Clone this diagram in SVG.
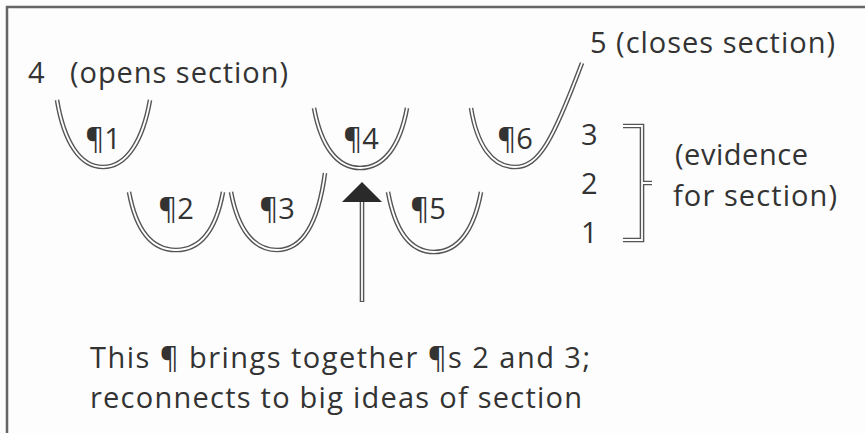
<svg xmlns="http://www.w3.org/2000/svg" width="865" height="433" viewBox="0 0 865 433">
<style>
  text { font-family: "Open Sans", "Noto Sans", sans-serif; fill: #333; font-size: 29px; }
  .o { fill: none; stroke: #555; stroke-width: 4.6; }
  .i { fill: none; stroke: #fff; stroke-width: 1.8; }
</style>
<rect x="0" y="0" width="865" height="433" fill="#fdfdfd"/>
<path d="M7,433 V7 H865" fill="none" stroke="#666" stroke-width="2.5"/>

<g id="label-opens">
  <text x="28" y="83">4</text>
  <text x="70" y="83" textLength="218" lengthAdjust="spacing">(opens section)</text>
</g>
<g id="label-closes"><text x="590" y="53" textLength="245" lengthAdjust="spacing">5 (closes section)</text></g>

<g id="p1">
  <path class="o" d="M57,100 C64,142 80,167 103,167 C127,167 143,140 150,100"/>
  <path class="i" d="M57,100 C64,142 80,167 103,167 C127,167 143,140 150,100"/>
  <text x="103" y="149" text-anchor="middle">¶1</text>
</g>
<g id="p4">
  <path class="o" d="M314,108 C321,146 337,168 360,168 C384,168 400,146 407,108"/>
  <path class="i" d="M314,108 C321,146 337,168 360,168 C384,168 400,146 407,108"/>
  <text x="361" y="149" text-anchor="middle">¶4</text>
</g>
<g id="p6">
  <path class="o" d="M471,108 C477,145 492,167 515,167 C539,167 553,140 582,63"/>
  <path class="i" d="M471,108 C477,145 492,167 515,167 C539,167 553,140 582,63"/>
  <text x="515" y="149" text-anchor="middle">¶6</text>
</g>
<g id="p2">
  <path class="o" d="M129,192 C136,230 152,250 176,250 C200,250 216,230 223,192"/>
  <path class="i" d="M129,192 C136,230 152,250 176,250 C200,250 216,230 223,192"/>
  <text x="176" y="219" text-anchor="middle">¶2</text>
</g>
<g id="p3">
  <path class="o" d="M231,192 C238,230 254,250 277,250 C302,250 318,225 325,173"/>
  <path class="i" d="M231,192 C238,230 254,250 277,250 C302,250 318,225 325,173"/>
  <text x="277" y="219" text-anchor="middle">¶3</text>
</g>
<g id="p5">
  <path class="o" d="M388,192 C395,230 410,252 434,252 C458,252 474,230 481,192"/>
  <path class="i" d="M388,192 C395,230 410,252 434,252 C458,252 474,230 481,192"/>
  <text x="428" y="219" text-anchor="middle">¶5</text>
</g>

<g id="evidence">
  <text x="581" y="145">3</text>
  <text x="581" y="194">2</text>
  <text x="581" y="243">1</text>
  <text x="675" y="165" textLength="133" lengthAdjust="spacing">(evidence</text>
  <text x="673" y="206" textLength="164" lengthAdjust="spacing">for section)</text>
</g>

<g id="connectors">
  <path class="o" d="M623,126 H642 V240 H623 M642,183 H652" stroke-linejoin="miter"/>
  <path class="i" d="M623,126 H642 V240 H623 M642,183 H652" stroke-linejoin="miter"/>
  <path class="o" d="M362,202 V302"/>
  <path class="i" d="M362,200 V301"/>
  <polygon points="362,182 382,202 342,202" fill="#2a2a2a"/>
</g>

<g id="caption">
  <text x="90" y="368" textLength="500" lengthAdjust="spacing">This ¶ brings together ¶s 2 and 3;</text>
  <text x="90" y="408" textLength="492" lengthAdjust="spacing">reconnects to big ideas of section</text>
</g>
</svg>
